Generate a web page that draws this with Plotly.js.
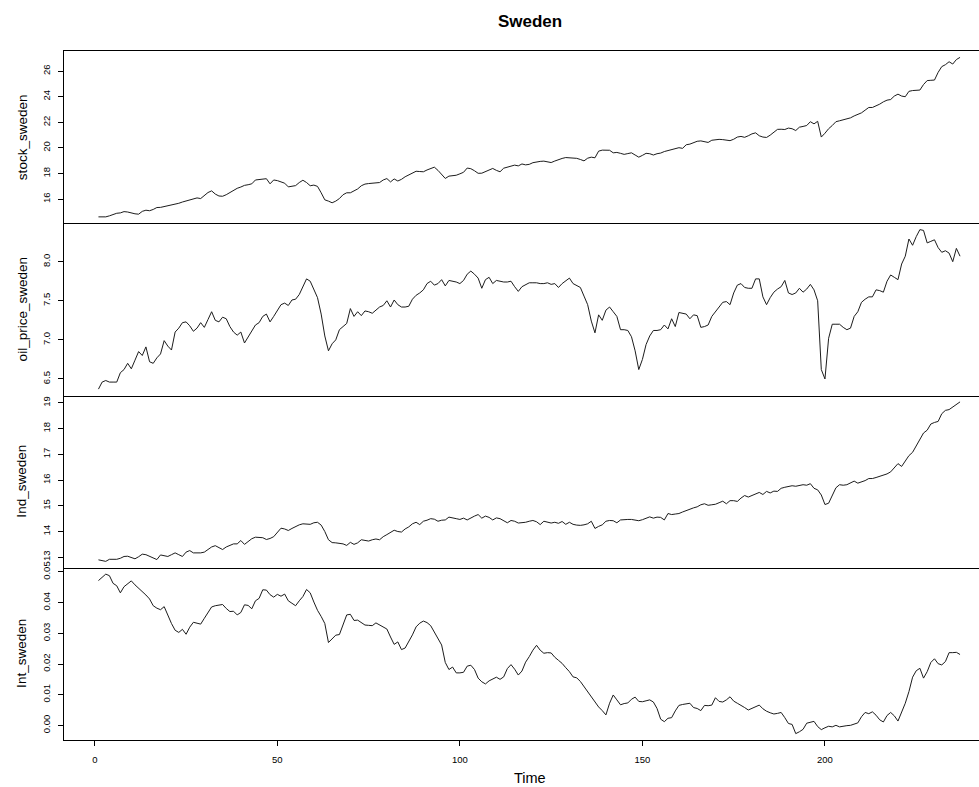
<!DOCTYPE html>
<html>
<head>
<meta charset="utf-8">
<script src="https://cdn.plot.ly/plotly-3.0.1.min.js"></script>
<style>
  html, body { margin: 0; padding: 0; background: #ffffff; }
  #chart { width: 979px; height: 787px; }
</style>
</head>
<body>
<div id="chart"></div>
<script>
// Monthly series for Sweden, observation index 1..237

const stockSweden = [
  14.62, 14.62, 14.62, 14.70, 14.82, 14.90, 14.93, 15.03, 15.00, 14.92,
  14.86, 14.83, 15.05, 15.14, 15.10, 15.20, 15.35, 15.36, 15.42, 15.47,
  15.52, 15.58, 15.68, 15.78, 15.87, 15.93, 16.03, 16.10, 16.05, 16.30,
  16.52, 16.65, 16.40, 16.25, 16.23, 16.35, 16.52, 16.72, 16.85, 16.95,
  17.08, 17.13, 17.20, 17.50, 17.55, 17.56, 17.60, 17.20, 17.50, 17.45,
  17.32, 17.25, 16.96, 17.03, 17.06, 17.30, 17.48, 17.30, 17.05, 17.10,
  17.00, 16.50, 15.95, 15.85, 15.72, 15.85, 16.05, 16.35, 16.50, 16.50,
  16.65, 16.80, 17.05, 17.18, 17.22, 17.24, 17.25, 17.30, 17.50, 17.61,
  17.35, 17.58, 17.42, 17.55, 17.75, 17.90, 18.05, 18.18, 18.16, 18.14,
  18.28, 18.42, 18.50, 18.25, 17.90, 17.62, 17.80, 17.83, 17.87, 17.98,
  18.10, 18.43, 18.38, 18.22, 18.02, 18.03, 18.14, 18.28, 18.40, 18.25,
  18.14, 18.42, 18.50, 18.58, 18.66, 18.60, 18.75, 18.68, 18.72, 18.85,
  18.92, 18.95, 18.97, 18.93, 18.86, 18.98, 19.10, 19.18, 19.25, 19.24,
  19.22, 19.19, 19.10, 18.99, 19.20, 19.28, 19.23, 19.75, 19.83, 19.84,
  19.82, 19.62, 19.65, 19.58, 19.50, 19.56, 19.62, 19.45, 19.28, 19.42,
  19.58, 19.55, 19.45, 19.55, 19.60, 19.72, 19.80, 19.90, 19.98, 20.02,
  19.97, 20.25, 20.30, 20.40, 20.52, 20.55, 20.50, 20.43, 20.60, 20.66,
  20.67, 20.65, 20.58, 20.57, 20.68, 20.85, 20.90, 20.83, 20.95, 21.10,
  21.18, 20.95, 20.85, 20.82, 21.00, 21.25, 21.45, 21.46, 21.44, 21.55,
  21.50, 21.36, 21.62, 21.68, 21.75, 22.05, 21.88, 22.08, 20.85, 21.15,
  21.50, 21.75, 22.05, 22.12, 22.20, 22.22, 22.35, 22.50, 22.62, 22.74,
  22.95, 23.16, 23.16, 23.28, 23.42, 23.60, 23.73, 23.78, 24.05, 24.20,
  24.05, 24.00, 24.42, 24.48, 24.50, 24.52, 24.95, 25.26, 25.28, 25.30,
  25.90, 26.35, 26.50, 26.73, 26.55, 26.90, 27.07
];

const oilPriceSweden = [
  6.37, 6.46, 6.48, 6.46, 6.46, 6.46, 6.58, 6.62, 6.70, 6.63,
  6.74, 6.85, 6.80, 6.91, 6.72, 6.70, 6.77, 6.82, 6.99, 6.92,
  6.87, 7.10, 7.15, 7.22, 7.23, 7.18, 7.11, 7.15, 7.22, 7.16,
  7.26, 7.36, 7.25, 7.23, 7.29, 7.27, 7.17, 7.10, 7.06, 7.10,
  6.96, 7.04, 7.12, 7.19, 7.22, 7.30, 7.33, 7.23, 7.30, 7.37,
  7.45, 7.47, 7.44, 7.51, 7.52, 7.58, 7.68, 7.78, 7.75, 7.64,
  7.54, 7.33, 7.05, 6.86, 6.95, 7.00, 7.13, 7.17, 7.21, 7.40,
  7.30, 7.36, 7.31, 7.37, 7.36, 7.34, 7.38, 7.42, 7.44, 7.50,
  7.42, 7.51, 7.45, 7.42, 7.42, 7.43, 7.52, 7.57, 7.60, 7.64,
  7.72, 7.75, 7.70, 7.72, 7.77, 7.69, 7.76, 7.75, 7.74, 7.72,
  7.76, 7.84, 7.88, 7.84, 7.79, 7.66, 7.77, 7.80, 7.72, 7.76,
  7.75, 7.74, 7.74, 7.75, 7.68, 7.62, 7.68, 7.70, 7.73, 7.73,
  7.73, 7.72, 7.72, 7.73, 7.71, 7.72, 7.67, 7.72, 7.76, 7.79,
  7.72, 7.69, 7.67, 7.56, 7.45, 7.24, 7.09, 7.32, 7.25, 7.38,
  7.42, 7.36, 7.30, 7.13, 7.13, 7.12, 7.04, 6.86, 6.62, 6.75,
  6.94, 7.05, 7.12, 7.12, 7.13, 7.19, 7.14, 7.27, 7.17, 7.35,
  7.34, 7.33, 7.27, 7.32, 7.31, 7.16, 7.17, 7.19, 7.30, 7.36,
  7.42, 7.48, 7.49, 7.45, 7.60, 7.70, 7.72, 7.67, 7.66, 7.66,
  7.78, 7.78, 7.55, 7.45, 7.54, 7.61, 7.65, 7.68, 7.76, 7.60,
  7.58, 7.60, 7.66, 7.61, 7.65, 7.71, 7.64, 7.50, 6.62, 6.50,
  7.02, 7.20, 7.20, 7.20, 7.16, 7.13, 7.15, 7.30, 7.36, 7.48,
  7.52, 7.55, 7.55, 7.64, 7.63, 7.61, 7.75, 7.83, 7.80, 7.77,
  7.97, 8.07, 8.29, 8.21, 8.32, 8.41, 8.40, 8.24, 8.26, 8.28,
  8.18, 8.12, 8.14, 8.11, 8.00, 8.17, 8.07
];

const indSweden = [
  12.90, 12.88, 12.84, 12.92, 12.92, 12.92, 12.96, 13.03, 13.04, 12.98,
  12.94, 13.02, 13.12, 13.10, 13.03, 12.96, 12.91, 13.09, 13.06, 13.03,
  13.10, 13.17, 13.10, 13.03, 13.20, 13.26, 13.17, 13.17, 13.17, 13.20,
  13.30, 13.40, 13.45, 13.36, 13.30, 13.40, 13.47, 13.52, 13.52, 13.65,
  13.50, 13.60, 13.72, 13.78, 13.78, 13.76, 13.69, 13.73, 13.80, 13.95,
  14.13, 14.10, 14.04, 14.12, 14.20, 14.26, 14.30, 14.28, 14.28, 14.34,
  14.36, 14.25, 14.00, 13.68, 13.57, 13.56, 13.55, 13.52, 13.46, 13.58,
  13.50, 13.56, 13.68, 13.64, 13.63, 13.68, 13.71, 13.68, 13.80, 13.88,
  13.95, 14.05, 14.00, 13.98, 14.10, 14.18, 14.30, 14.36, 14.27, 14.40,
  14.44, 14.50, 14.48, 14.40, 14.44, 14.45, 14.56, 14.54, 14.50, 14.47,
  14.52, 14.45, 14.54, 14.60, 14.66, 14.52, 14.60, 14.55, 14.45, 14.53,
  14.50, 14.42, 14.34, 14.43, 14.40, 14.33, 14.34, 14.36, 14.40, 14.43,
  14.38, 14.27, 14.40, 14.36, 14.33, 14.36, 14.32, 14.39, 14.28, 14.36,
  14.28, 14.25, 14.24, 14.26, 14.30, 14.40, 14.12, 14.20, 14.26, 14.40,
  14.43, 14.42, 14.34, 14.45, 14.47, 14.47, 14.47, 14.44, 14.42, 14.46,
  14.52, 14.57, 14.52, 14.56, 14.55, 14.45, 14.70, 14.66, 14.68, 14.70,
  14.76, 14.82, 14.88, 14.92, 14.96, 15.04, 15.08, 15.02, 15.04, 15.06,
  15.12, 15.18, 15.08, 15.20, 15.20, 15.17, 15.30, 15.40, 15.34, 15.40,
  15.45, 15.52, 15.44, 15.56, 15.50, 15.57, 15.56, 15.68, 15.72, 15.74,
  15.78, 15.76, 15.80, 15.82, 15.80, 15.86, 15.68, 15.62, 15.42, 15.05,
  15.10, 15.42, 15.70, 15.82, 15.80, 15.82, 15.90, 15.96, 15.88, 15.92,
  15.98, 16.06, 16.06, 16.10, 16.14, 16.18, 16.24, 16.32, 16.50, 16.64,
  16.53, 16.75, 16.95, 17.08, 17.35, 17.60, 17.83, 17.94, 18.18, 18.24,
  18.28, 18.58, 18.71, 18.74, 18.84, 18.92, 19.04
];

const intSweden = [
  0.0472, 0.0483, 0.0493, 0.0488, 0.0463, 0.0455, 0.0432, 0.0452, 0.0463, 0.0471,
  0.0458, 0.0447, 0.0438, 0.0425, 0.0412, 0.0390, 0.0382, 0.0377, 0.0387, 0.0358,
  0.0332, 0.0310, 0.0303, 0.0313, 0.0297, 0.0320, 0.0336, 0.0333, 0.0330, 0.0349,
  0.0368, 0.0386, 0.0390, 0.0393, 0.0394, 0.0381, 0.0371, 0.0372, 0.0360, 0.0368,
  0.0393, 0.0391, 0.0380, 0.0406, 0.0414, 0.0442, 0.0441, 0.0426, 0.0418, 0.0427,
  0.0421, 0.0428, 0.0406, 0.0398, 0.0390, 0.0406, 0.0420, 0.0443, 0.0432, 0.0402,
  0.0375, 0.0355, 0.0332, 0.0270, 0.0283, 0.0294, 0.0296, 0.0325, 0.0360, 0.0362,
  0.0342, 0.0343, 0.0335, 0.0327, 0.0326, 0.0325, 0.0334, 0.0327, 0.0322, 0.0314,
  0.0288, 0.0264, 0.0272, 0.0247, 0.0252, 0.0272, 0.0295, 0.0321, 0.0333, 0.0340,
  0.0335, 0.0325, 0.0303, 0.0285, 0.0262, 0.0205, 0.0182, 0.0190, 0.0171, 0.0171,
  0.0173, 0.0193, 0.0196, 0.0182, 0.0154, 0.0142, 0.0135, 0.0145, 0.0152, 0.0157,
  0.0150, 0.0158, 0.0185, 0.0198, 0.0183, 0.0164, 0.0177, 0.0206, 0.0224, 0.0245,
  0.0261, 0.0245, 0.0235, 0.0237, 0.0236, 0.0222, 0.0212, 0.0202, 0.0188, 0.0175,
  0.0158, 0.0155, 0.0143, 0.0126, 0.0108, 0.0094, 0.0075, 0.0060, 0.0048, 0.0034,
  0.0072, 0.0099, 0.0083, 0.0067, 0.0071, 0.0073, 0.0085, 0.0092, 0.0078, 0.0077,
  0.0080, 0.0083, 0.0076, 0.0055, 0.0020, 0.0012, 0.0023, 0.0025, 0.0047, 0.0065,
  0.0068, 0.0070, 0.0072, 0.0058, 0.0055, 0.0048, 0.0065, 0.0064, 0.0066, 0.0090,
  0.0078, 0.0076, 0.0083, 0.0093, 0.0079, 0.0072, 0.0066, 0.0058, 0.0050, 0.0055,
  0.0062, 0.0066, 0.0054, 0.0046, 0.0041, 0.0037, 0.0039, 0.0042, 0.0025, 0.0006,
  0.0003, -0.0027, -0.0021, -0.0013, 0.0007, 0.0010, 0.0013, -0.0004, -0.0014, -0.0008,
  -0.0003, -0.0005, 0.0000, -0.0005, -0.0002, -0.0001, 0.0000, 0.0003, 0.0008, 0.0028,
  0.0042, 0.0038, 0.0044, 0.0033, 0.0018, 0.0011, 0.0032, 0.0042, 0.0031, 0.0014,
  0.0045, 0.0072, 0.0110, 0.0157, 0.0178, 0.0186, 0.0154, 0.0175, 0.0205, 0.0217,
  0.0201, 0.0197, 0.0208, 0.0237, 0.0237, 0.0238, 0.0231
];

const seriesNames = ['stock_sweden', 'oil_price_sweden', 'Ind_sweden', 'Int_sweden'];
const xTickValues = [0, 50, 100, 150, 200];

// ---- layout constants (pixels) ----
const W = 979, H = 787;
const PLOT_LEFT = 64, PLOT_TOP = 51, PLOT_BOTTOM = 740;
const FULL_PLOT_RIGHT = 994.5;   // right edge of the plotting region, beyond the page edge
const plotW = W - PLOT_LEFT;
const plotH = PLOT_BOTTOM - PLOT_TOP;

const n = stockSweden.length;
const time = Array.from({ length: n }, (_, i) => i + 1);

// R-style axis limits: data range padded by 4% on each side
function padded(lo, hi) {
  const d = (hi - lo) * 0.04;
  return [lo - d, hi + d];
}
const xFull = padded(1, n);
const xUnitsPerPx = (xFull[1] - xFull[0]) / (FULL_PLOT_RIGHT - PLOT_LEFT);
const xRange = [xFull[0], xFull[0] + plotW * xUnitsPerPx];

const panels = [
  { y: stockSweden,    dtick: 2,    tick0: 0, fmt: 'd'   },
  { y: oilPriceSweden, dtick: 0.5,  tick0: 0, fmt: '.1f' },
  { y: indSweden,      dtick: 1,    tick0: 0, fmt: 'd'   },
  { y: intSweden,      dtick: 0.01, tick0: 0, fmt: '.2f' }
];

const FONT = 'Liberation Sans, Arial, Helvetica, sans-serif';
const INK = '#000000';
const LINE = '#1c1c1c';

const traces = [];
const layout = {
  width: W,
  height: H,
  paper_bgcolor: '#ffffff',
  plot_bgcolor: '#ffffff',
  showlegend: false,
  margin: { l: PLOT_LEFT, r: 0, t: PLOT_TOP, b: H - PLOT_BOTTOM, pad: 0 },
  font: { family: FONT, color: INK },
  title: {
    text: '<b>Sweden</b>',
    font: { family: FONT, size: 17, color: INK },
    xref: 'container', yref: 'container',
    x: 530 / W, y: 1 - 21 / H,
    xanchor: 'center', yanchor: 'middle'
  },
  annotations: []
};

panels.forEach((p, i) => {
  const k = i + 1;
  const xName = k === 1 ? 'x' : 'x' + k;
  const yName = k === 1 ? 'y' : 'y' + k;
  const xKey = k === 1 ? 'xaxis' : 'xaxis' + k;
  const yKey = k === 1 ? 'yaxis' : 'yaxis' + k;
  const domTop = 1 - i * 0.25;
  const domBot = domTop - 0.25;
  const isBottom = k === panels.length;

  traces.push({
    type: 'scatter',
    mode: 'lines',
    x: time,
    y: p.y,
    xaxis: xName,
    yaxis: yName,
    line: { color: LINE, width: 1 },
    hoverinfo: 'x+y'
  });

  const lo = Math.min(...p.y), hi = Math.max(...p.y);

  // each panel draws its own lower frame line; the top panel also draws the upper one
  layout[xKey] = {
    domain: [0, 1],
    anchor: yName,
    range: xRange,
    showgrid: false,
    zeroline: false,
    showline: true,
    mirror: k === 1,
    linecolor: INK,
    linewidth: 1,
    ticks: isBottom ? 'outside' : '',
    ticklen: 5,
    tickwidth: 1,
    tickcolor: INK,
    tickvals: isBottom ? xTickValues : [],
    showticklabels: isBottom,
    tickfont: { family: FONT, size: 9.5, color: INK },
    ticklabelstandoff: 6
  };
  if (k !== panels.length) layout[xKey].matches = 'x' + panels.length;

  layout[yKey] = {
    domain: [domBot, domTop],
    anchor: xName,
    range: padded(lo, hi),
    showgrid: false,
    zeroline: false,
    showline: true,
    mirror: false,
    linecolor: INK,
    linewidth: 1,
    ticks: 'outside',
    ticklen: 5,
    tickwidth: 1,
    tickcolor: INK,
    tick0: p.tick0,
    dtick: p.dtick,
    tickformat: p.fmt,
    tickangle: -90,
    tickfont: { family: FONT, size: 9.5, color: INK },
    ticklabelstandoff: 4
  };

  // series name beside its panel
  layout.annotations.push({
    text: seriesNames[i],
    xref: 'paper', yref: 'paper',
    x: (22 - PLOT_LEFT) / plotW,
    y: (domBot + domTop) / 2,
    xanchor: 'center', yanchor: 'middle',
    textangle: -90,
    showarrow: false,
    font: { family: FONT, size: 13.5, color: INK }
  });
});

// horizontal axis label
layout.annotations.push({
  text: 'Time',
  xref: 'paper', yref: 'paper',
  x: (530 - PLOT_LEFT) / plotW,
  y: (PLOT_BOTTOM - 777.5) / plotH,
  xanchor: 'center', yanchor: 'middle',
  showarrow: false,
  font: { family: FONT, size: 14.5, color: INK }
});

Plotly.newPlot('chart', traces, layout, { displayModeBar: false, staticPlot: true });
</script>
</body>
</html>
